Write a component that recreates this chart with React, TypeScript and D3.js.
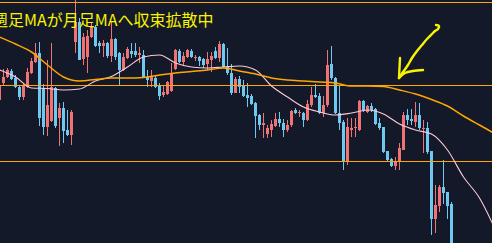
import React, { useEffect } from "react";
import * as d3 from "d3";

const W = 492;
const H = 243;

// Weekly candles: [open, high, low, close]
const CANDLES: [number, number, number, number][] = [
  [140.0, 142.0, 139.8, 141.5],
  [141.7, 143.1, 141.5, 142.3],
  [142.3, 143.2, 142.2, 143.0],
  [142.9, 143.1, 142.0, 142.1],
  [142.2, 142.5, 141.2, 141.3],
  [141.3, 141.5, 140.0, 140.3],
  [140.3, 141.6, 140.0, 141.4],
  [141.3, 143.2, 141.2, 142.8],
  [142.7, 144.2, 142.6, 143.9],
  [143.8, 145.7, 143.7, 144.7],
  [144.7, 145.8, 137.4, 138.2],
  [141.2, 141.6, 136.5, 137.3],
  [137.3, 144.0, 136.4, 139.5],
  [137.9, 145.7, 137.8, 141.3],
  [141.2, 141.3, 137.2, 137.4],
  [138.2, 139.7, 135.4, 139.2],
  [139.2, 139.8, 135.7, 136.9],
  [137.0, 139.0, 136.4, 136.5],
  [136.5, 139.0, 135.5, 138.8],
  [145.8, 150.0, 144.7, 147.8],
  [147.8, 148.2, 144.0, 144.0],
  [144.1, 146.7, 143.5, 146.3],
  [144.3, 147.0, 142.7, 146.4],
  [146.3, 147.7, 146.2, 147.3],
  [147.3, 147.5, 145.3, 145.4],
  [145.7, 145.9, 144.7, 145.4],
  [145.4, 146.0, 144.3, 145.7],
  [145.7, 145.8, 144.2, 144.4],
  [144.4, 147.8, 143.8, 146.1],
  [146.1, 146.2, 144.0, 144.3],
  [144.7, 144.8, 141.5, 143.0],
  [143.0, 144.7, 142.9, 144.3],
  [144.2, 145.3, 144.1, 145.1],
  [144.9, 145.7, 144.2, 144.6],
  [144.9, 145.7, 144.3, 144.5],
  [144.5, 145.3, 143.7, 144.7],
  [144.5, 145.0, 142.2, 142.3],
  [142.3, 143.0, 141.3, 142.0],
  [141.9, 143.0, 141.3, 142.3],
  [142.2, 142.4, 141.2, 141.3],
  [141.5, 141.7, 140.0, 140.4],
  [140.5, 141.5, 140.3, 140.8],
  [140.6, 141.9, 140.5, 141.8],
  [140.9, 143.7, 140.8, 142.7],
  [143.1, 145.1, 143.0, 145.0],
  [144.9, 145.1, 143.7, 143.8],
  [143.8, 144.8, 143.4, 144.4],
  [144.3, 145.1, 144.2, 145.0],
  [144.9, 145.1, 144.2, 144.3],
  [144.2, 144.5, 143.9, 144.3],
  [144.3, 144.4, 143.4, 143.9],
  [144.1, 144.2, 143.2, 143.5],
  [143.6, 144.8, 143.0, 144.1],
  [144.0, 144.8, 142.8, 144.4],
  [144.9, 145.3, 144.1, 144.2],
  [144.2, 145.9, 143.8, 145.6],
  [145.6, 145.7, 143.2, 143.3],
  [143.3, 145.2, 142.5, 142.7],
  [142.7, 143.6, 140.5, 140.7],
  [140.7, 142.3, 140.7, 142.1],
  [142.1, 142.4, 140.7, 141.3],
  [141.5, 142.0, 140.3, 140.4],
  [140.5, 141.7, 139.3, 140.2],
  [140.4, 140.6, 139.5, 139.6],
  [139.7, 139.8, 136.2, 138.4],
  [138.5, 138.6, 137.0, 137.5],
  [137.5, 138.7, 136.2, 137.7],
  [136.6, 137.5, 136.2, 137.2],
  [137.0, 138.0, 136.3, 137.6],
  [137.4, 138.7, 137.3, 138.1],
  [138.1, 138.8, 137.3, 137.7],
  [137.7, 138.1, 136.3, 137.0],
  [137.0, 138.0, 136.8, 137.5],
  [137.5, 139.0, 137.3, 138.9],
  [139.0, 139.2, 138.6, 138.7],
  [138.7, 139.0, 138.3, 138.8],
  [138.7, 138.8, 137.3, 138.0],
  [138.0, 140.0, 137.9, 139.6],
  [139.5, 141.3, 139.3, 140.5],
  [140.5, 141.6, 140.2, 140.3],
  [140.4, 140.7, 138.6, 138.7],
  [138.7, 140.4, 138.3, 139.5],
  [139.5, 145.0, 139.3, 143.5],
  [143.6, 145.4, 142.0, 142.2],
  [142.2, 142.3, 138.6, 138.7],
  [138.7, 141.4, 137.0, 137.7],
  [137.8, 138.0, 133.0, 133.8],
  [133.8, 138.2, 133.5, 137.3],
  [137.0, 138.2, 136.3, 137.2],
  [137.2, 138.2, 136.3, 137.3],
  [137.0, 140.0, 136.9, 139.9],
  [139.9, 140.0, 138.8, 139.0],
  [138.8, 139.5, 138.7, 139.4],
  [139.4, 139.7, 138.8, 139.0],
  [139.1, 139.2, 137.5, 137.6],
  [137.7, 138.2, 137.0, 137.2],
  [137.3, 137.3, 134.7, 134.8],
  [134.9, 134.9, 133.8, 134.0],
  [134.1, 134.2, 133.3, 133.4],
  [133.4, 134.3, 133.0, 133.9],
  [133.8, 135.7, 133.0, 135.2],
  [135.0, 138.8, 135.0, 138.5],
  [138.5, 139.1, 137.5, 138.0],
  [138.1, 139.1, 137.5, 137.9],
  [137.8, 139.8, 137.3, 138.5],
  [138.5, 139.7, 137.0, 137.2],
  [137.1, 138.0, 134.7, 137.2],
  [137.2, 137.8, 134.6, 134.8],
  [134.9, 134.9, 126.5, 128.1],
  [128.1, 131.5, 126.7, 129.5],
  [129.4, 131.5, 128.8, 131.3],
  [131.3, 134.0, 129.6, 130.7],
  [130.8, 130.8, 128.1, 129.4],
  [129.6, 129.8, 123.8, 124.0],
];

// Moving averages sampled every 4 weeks
const MA_INDEX = [0, 4, 8, 12, 16, 20, 24, 28, 32, 36, 40, 44, 48, 52, 56, 60, 64, 68, 72, 76, 80, 84, 88, 92, 96, 100, 104, 108, 112, 116, 120, 124];
const MONTHLY_MA = [146.3, 145.6, 144.8, 143.5, 142.3, 141.9, 142.05, 142.2, 142.2, 142.25, 142.5, 142.7, 142.85, 143.0, 143.2, 142.9, 142.6, 142.2, 142.0, 141.9, 141.8, 141.7, 141.4, 141.4, 141.35, 141.0, 140.6, 140.05, 139.4, 138.4, 137.5, 136.6];
const WEEKLY_MA = [143.0, 142.3, 141.2, 141.15, 141.0, 141.1, 141.9, 142.35, 143.3, 144.3, 144.5, 143.7, 143.3, 143.2, 143.3, 143.4, 143.0, 141.4, 140.3, 139.3, 138.8, 138.5, 138.7, 139.0, 138.6, 137.6, 137.0, 136.6, 135.0, 132.3, 130.2, 127.0];

// Horizontal price levels
const LEVELS = [149.75, 141.45, 133.85];

const TITLE = "週足MAが月足MAへ収束拡散中";

// Hand-drawn arrow annotation, in (week index, price)
const ARROW_SHAFT: [number, number][] = [
  [109.125, 147.5], [109.875, 147.4], [109.625, 147.1], [108.875, 146.9], [108.375, 146.7],
  [106.875, 146.1], [105.625, 145.5], [104.375, 144.9], [103.125, 144.2], [102.125, 143.5],
  [100.875, 142.8], [99.875, 142.2],
];
const ARROW_HEAD_LEFT: [number, number][] = [[100.125, 144.2], [99.875, 142.2]];
const ARROW_HEAD_RIGHT: [number, number][] = [[99.875, 142.2], [101.375, 142.7], [103.375, 142.9], [105.875, 143.0]];

const BG = "#131928";
const UP = "#f07272";
const DOWN = "#6ec8f0";
const ORANGE = "#ffa600";
const PINK = "#ffc8d6";
const YELLOW = "#f8f400";

export default function App() {
  useEffect(() => {
    document.body.style.margin = "0";
  }, []);

  const x = d3.scaleLinear().domain([0, 123]).range([-0.5, 491.5]);
  const y = d3.scaleLinear().domain([125.7, 150]).range([H, 0]);

  const maLine = d3
    .line<[number, number]>()
    .x((d) => x(d[0]))
    .y((d) => y(d[1]))
    .curve(d3.curveMonotoneX);

  const monthly = maLine(MA_INDEX.map((i, k) => [i, MONTHLY_MA[k]] as [number, number])) || "";
  const weekly = maLine(MA_INDEX.map((i, k) => [i, WEEKLY_MA[k]] as [number, number])) || "";

  const freeLine = d3
    .line<[number, number]>()
    .x((d) => x(d[0]))
    .y((d) => y(d[1]))
    .curve(d3.curveCatmullRom);

  const bodyW = 3;

  return (
    <svg width={W} height={H} style={{ display: "block", position: "fixed", left: 0, top: 0 }}>
      <rect x={0} y={0} width={W} height={H} fill={BG} />
      <g>
        {CANDLES.map((c, i) => {
          const [o, h, l, cl] = c;
          const up = cl >= o;
          const col = up ? UP : DOWN;
          const cx = x(i);
          const top = y(Math.max(o, cl));
          const bot = y(Math.min(o, cl));
          return (
            <g key={i} shapeRendering="crispEdges">
              <rect x={cx - 0.5} y={y(h)} width={1} height={Math.max(1, y(l) - y(h))} fill={col} />
              <rect x={cx - bodyW / 2} y={top} width={bodyW} height={Math.max(1, bot - top)} fill={col} />
            </g>
          );
        })}
      </g>
      <g>
        {LEVELS.map((p, i) => (
          <line key={i} x1={0} x2={W} y1={y(p)} y2={y(p)} stroke={ORANGE} strokeWidth={1} shapeRendering="crispEdges" />
        ))}
      </g>
      <path d={weekly} fill="none" stroke={PINK} strokeWidth={1.1} />
      <path d={monthly} fill="none" stroke={ORANGE} strokeWidth={1.5} />
      <text
        x={-8}
        y={25.5}
        fill={YELLOW}
        fontSize={16}
        fontWeight={400}
        fontFamily="'Noto Sans CJK JP', 'Noto Sans', sans-serif"
      >
        {TITLE}
      </text>
      <g fill="none" stroke={YELLOW} strokeWidth={2.4} strokeLinecap="round" strokeLinejoin="round">
        <path d={freeLine(ARROW_SHAFT) || ""} />
        <path d={freeLine(ARROW_HEAD_LEFT) || ""} />
        <path d={freeLine(ARROW_HEAD_RIGHT) || ""} />
      </g>
    </svg>
  );
}
